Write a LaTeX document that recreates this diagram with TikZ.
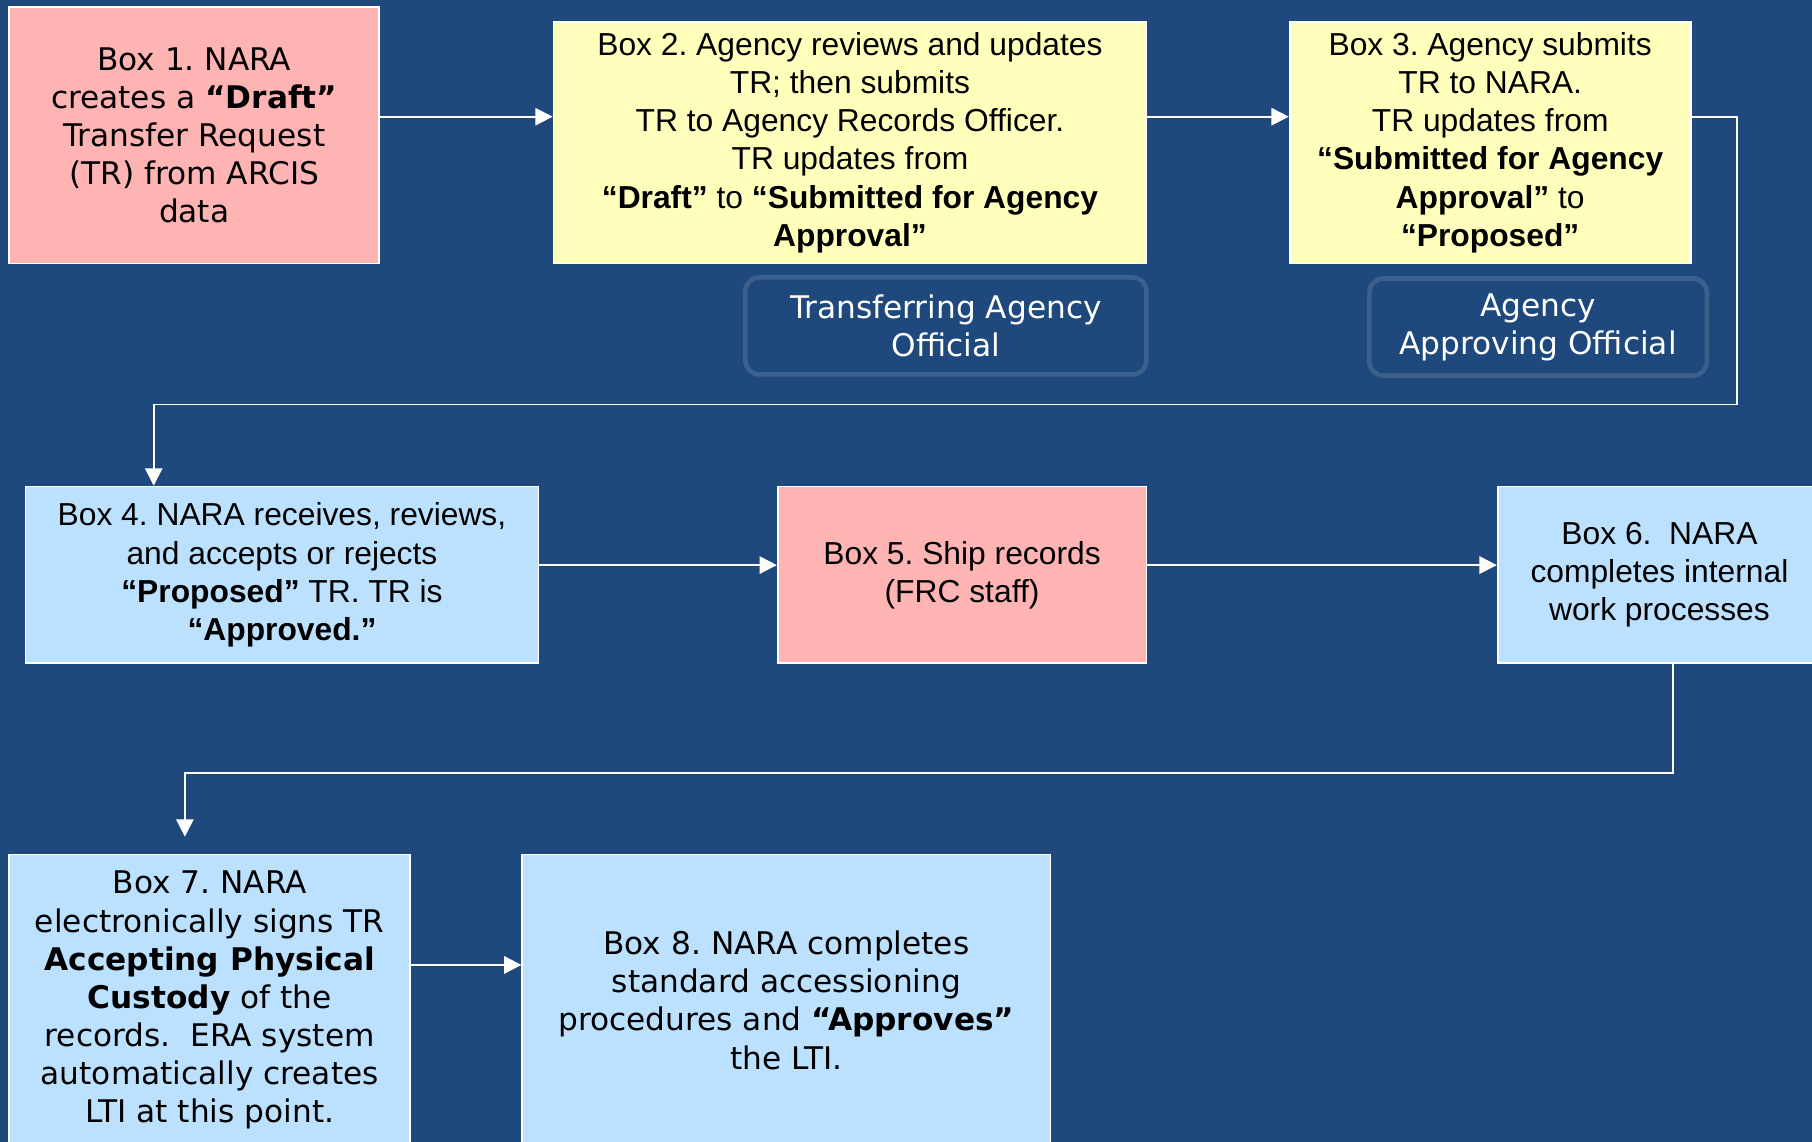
\documentclass[tikz,border=0pt]{standalone}
\usepackage{fontspec}
\setmainfont{Liberation Sans}
\newfontfamily\verd{DejaVu Sans}
\usetikzlibrary{arrows.meta}
\frenchspacing
\definecolor{bgblue}{RGB}{31,73,125}
\definecolor{pinkfill}{RGB}{255,180,180}
\definecolor{yellowfill}{RGB}{255,255,187}
\definecolor{bluefill}{RGB}{187,225,255}
\definecolor{roleline}{RGB}{60,95,140}

\begin{document}
\begin{tikzpicture}[x=0.5pt,y=-0.5pt,
  box/.style={draw=white,line width=0.75pt,inner sep=0pt,align=center,text=black},
  verdtext/.style={font=\verd\fontsize{13.5}{16.5}\selectfont},
  arialtext/.style={font=\fontsize{13.75}{16.5}\selectfont},
  role/.style={draw=roleline,line width=2pt,rounded corners=6pt,inner sep=0pt,align=center,
    text=white,font=\verd\fontsize{13.5}{16.5}\selectfont},
  flow/.style={draw=white,line width=0.8pt,-{Triangle[length=7.5pt,width=7.5pt]}}]

  \fill[bgblue,use as bounding box] (0,0) rectangle (1568,988);

  % first row
  \draw (168,117) node[box,verdtext,fill=pinkfill,minimum width=160pt,minimum height=111pt] (box1)
    {Box 1. NARA\\creates a \textbf{“Draft”}\\Transfer Request\\(TR) from ARCIS\\data};
  \draw (735.5,123.5) node[box,arialtext,fill=yellowfill,minimum width=256.5pt,minimum height=104.5pt] (box2)
    {Box 2. Agency reviews and updates\\TR; then submits\\TR to Agency Records Officer.\\TR updates from\\
     \textbf{“Draft”} to \textbf{“Submitted for Agency}\\\textbf{Approval”}};
  \draw (1289.5,123.5) node[box,arialtext,fill=yellowfill,minimum width=173.5pt,minimum height=104.5pt] (box3)
    {Box 3. Agency submits\\TR to NARA.\\TR updates from\\\textbf{“Submitted for Agency}\\
     \textbf{Approval”} to\\\textbf{“Proposed”}};
  \draw (818.5,282) node[role,minimum width=173.5pt,minimum height=42pt] (official)
    {Transferring Agency\\Official};
  \draw (1331,283) node[role,minimum width=146pt,minimum height=42pt] (approver)
    {Agency\\Approving Official};

  % second row
  \draw (244,497.5) node[box,arialtext,fill=bluefill,minimum width=222pt,minimum height=76.5pt] (box4)
    {Box 4. NARA receives, reviews,\\and accepts or rejects\\\textbf{“Proposed”} TR. TR is\\\textbf{“Approved.”}};
  \draw (832.5,497.5) node[box,arialtext,fill=pinkfill,minimum width=159.5pt,minimum height=76.5pt] (box5)
    {Box 5. Ship records\\(FRC staff)};
  \draw (1436,497.5) node[box,arialtext,fill=bluefill,minimum width=140pt,minimum height=76.5pt] (box6)
    {Box 6.\ \ NARA\\completes internal\\work processes};

  % third row
  \draw (181.5,865.5) node[box,verdtext,fill=bluefill,minimum width=173.5pt,minimum height=126pt] (box7)
    {Box 7. NARA\\electronically signs TR\\\textbf{Accepting Physical}\\\textbf{Custody} of the\\
     records.\ \ ERA system\\automatically creates\\LTI at this point.};
  \draw (680.5,865.5) node[box,verdtext,fill=bluefill,minimum width=228.5pt,minimum height=126pt] (box8)
    {Box 8. NARA completes\\standard accessioning\\procedures and \textbf{“Approves”}\\the LTI.};

  % rows and turns of the connectors
  \coordinate (top) at (0,101);
  \coordinate (mid) at (0,489);
  \coordinate (low) at (0,835);
  \coordinate (bend3) at (1503,350);
  \coordinate (drop4) at (133,0);
  \coordinate (drop6) at (1448,0);
  \coordinate (bend6) at (160,669);
  \coordinate (stop7) at (160,724);

  \draw[flow] (box1.east |- top) -- (box2.west |- top);
  \draw[flow] (box2.east |- top) -- (box3.west |- top);
  \draw[flow] (box3.east |- top) -| (bend3) -| (box4.north -| drop4);
  \draw[flow] (box4.east |- mid) -- (box5.west |- mid);
  \draw[flow] (box5.east |- mid) -- (box6.west |- mid);
  \draw[flow] (box6.south -| drop6) |- (bend6) -- (stop7);
  \draw[flow] (box7.east |- low) -- (box8.west |- low);
\end{tikzpicture}
\end{document}
